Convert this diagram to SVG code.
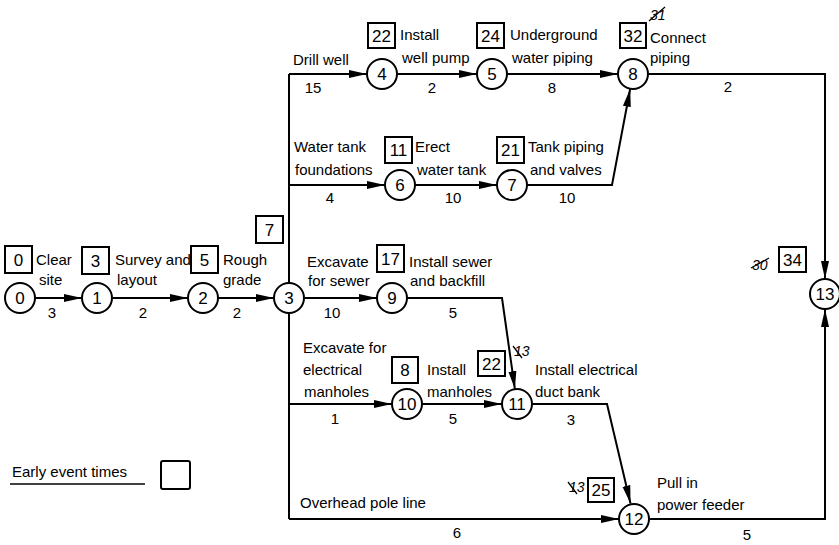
<svg xmlns="http://www.w3.org/2000/svg" width="839" height="545" viewBox="0 0 839 545">
<style>
text{font-family:"Liberation Sans",Arial,sans-serif;font-size:15px;fill:#000}
.n{font-size:17px;text-anchor:middle}
.b{font-size:17px;text-anchor:middle}
.d{text-anchor:middle;font-size:15px}
.x{font-style:italic;font-size:14px}
circle{fill:#fff;stroke:#000;stroke-width:2}
rect{fill:#fff;stroke:#000;stroke-width:2}
.c line,.c polyline{stroke:#000;stroke-width:2;fill:none}
.s{stroke:#000;stroke-width:1.3}
</style>
<defs>
<marker id="a" viewBox="0 0 18 10" refX="18" refY="5" markerWidth="18" markerHeight="10" orient="auto" markerUnits="userSpaceOnUse"><path d="M0,1 L18,5 L0,9 z" fill="#000"/></marker>
</defs>
<g class="c" id="connectors">
<line x1="35" y1="298" x2="82" y2="298" marker-end="url(#a)"/>
<line x1="112" y1="298" x2="188" y2="298" marker-end="url(#a)"/>
<line x1="218" y1="298" x2="274" y2="298" marker-end="url(#a)"/>
<line x1="289" y1="74" x2="289" y2="283"/>
<line x1="289" y1="313" x2="289" y2="519"/>
<line x1="289" y1="74" x2="367" y2="74" marker-end="url(#a)"/>
<line x1="397" y1="74" x2="477" y2="74" marker-end="url(#a)"/>
<line x1="507" y1="74" x2="618" y2="74" marker-end="url(#a)"/>
<polyline points="648,74 825,74 825,279" marker-end="url(#a)"/>
<line x1="289" y1="185" x2="385" y2="185" marker-end="url(#a)"/>
<line x1="415" y1="185" x2="497" y2="185" marker-end="url(#a)"/>
<polyline points="527,185 612,185 630.2,88.7" marker-end="url(#a)"/>
<line x1="304" y1="298" x2="377" y2="298" marker-end="url(#a)"/>
<polyline points="407,298 502,298 514.9,389.1" marker-end="url(#a)"/>
<line x1="289" y1="404" x2="392" y2="404" marker-end="url(#a)"/>
<line x1="422" y1="404" x2="502" y2="404" marker-end="url(#a)"/>
<polyline points="532,404 607,404 630.5,503.4" marker-end="url(#a)"/>
<line x1="289" y1="519" x2="619" y2="519" marker-end="url(#a)"/>
<polyline points="649,519 825,519 825,309" marker-end="url(#a)"/>
</g>
<g id="n0"><circle cx="20" cy="298" r="15"/><text class="n" x="20" y="304">0</text></g>
<g id="n1"><circle cx="97" cy="298" r="15"/><text class="n" x="97" y="304">1</text></g>
<g id="n2"><circle cx="203" cy="298" r="15"/><text class="n" x="203" y="304">2</text></g>
<g id="n3"><circle cx="289" cy="298" r="15"/><text class="n" x="289" y="304">3</text></g>
<g id="n4"><circle cx="382" cy="74" r="15"/><text class="n" x="382" y="80">4</text></g>
<g id="n5"><circle cx="492" cy="74" r="15"/><text class="n" x="492" y="80">5</text></g>
<g id="n6"><circle cx="400" cy="185" r="15"/><text class="n" x="400" y="191">6</text></g>
<g id="n7"><circle cx="512" cy="185" r="15"/><text class="n" x="512" y="191">7</text></g>
<g id="n8"><circle cx="633" cy="74" r="15"/><text class="n" x="633" y="80">8</text></g>
<g id="n9"><circle cx="392" cy="298" r="15"/><text class="n" x="392" y="304">9</text></g>
<g id="n10"><circle cx="407" cy="404" r="15"/><text class="n" x="407" y="410">10</text></g>
<g id="n11"><circle cx="517" cy="404" r="15"/><text class="n" x="517" y="410">11</text></g>
<g id="n12"><circle cx="634" cy="519" r="15"/><text class="n" x="634" y="525">12</text></g>
<g id="n13"><circle cx="825" cy="294" r="15"/><text class="n" x="825" y="300">13</text></g>
<g id="times">
<rect x="5" y="246" width="27" height="27"/><text class="b" x="18.5" y="266">0</text>
<rect x="82" y="247" width="27" height="27"/><text class="b" x="95.5" y="267">3</text>
<rect x="191" y="246" width="27" height="27"/><text class="b" x="204.5" y="266">5</text>
<rect x="256" y="216" width="27" height="27"/><text class="b" x="269.5" y="236">7</text>
<rect x="368" y="23" width="27" height="25"/><text class="b" x="381.5" y="42">22</text>
<rect x="477" y="23" width="27" height="25"/><text class="b" x="490.5" y="42">24</text>
<rect x="620" y="23" width="26" height="25"/><text class="b" x="633" y="42">32</text>
<rect x="385" y="137" width="27" height="26"/><text class="b" x="398.5" y="156">11</text>
<rect x="497" y="137" width="27" height="26"/><text class="b" x="510.5" y="156">21</text>
<rect x="377" y="245" width="27" height="27"/><text class="b" x="390.5" y="265">17</text>
<rect x="392" y="357" width="26" height="26"/><text class="b" x="405" y="376">8</text>
<rect x="478" y="351" width="27" height="25"/><text class="b" x="491.5" y="370">22</text>
<rect x="588" y="478" width="26" height="24"/><text class="b" x="601" y="496">25</text>
<rect x="779" y="247" width="27" height="25"/><text class="b" x="792.5" y="266">34</text>
<rect x="161" y="461" width="29" height="28" rx="2"/>
</g>
<g id="crossed">
<text class="x" x="650" y="20">31</text><line class="s" x1="649" y1="21" x2="665" y2="7"/>
<text class="x" x="752" y="270">30</text><line class="s" x1="751" y1="268" x2="769" y2="258"/>
<text class="x" x="514" y="356">13</text><line class="s" x1="513" y1="346" x2="522" y2="358"/>
<text class="x" x="569" y="492">13</text><line class="s" x1="568" y1="482" x2="577" y2="494"/>
</g>
<g id="labels">
<text x="36" y="265">Clear</text><text x="39" y="285">site</text>
<text x="115" y="265">Survey and</text><text x="117" y="285">layout</text>
<text x="223" y="265">Rough</text><text x="223" y="285">grade</text>
<text class="d" x="52" y="318">3</text>
<text class="d" x="143" y="318">2</text>
<text class="d" x="237" y="318">2</text>
<text x="293" y="65">Drill well</text>
<text class="d" x="313" y="93">15</text>
<text x="400" y="40">Install</text><text x="402" y="63">well pump</text>
<text class="d" x="432" y="93">2</text>
<text x="510" y="40">Underground</text><text x="512" y="63">water piping</text>
<text class="d" x="552" y="93">8</text>
<text x="650" y="43">Connect</text><text x="650" y="63">piping</text>
<text class="d" x="728" y="92">2</text>
<text x="294" y="152">Water tank</text><text x="295" y="175">foundations</text>
<text class="d" x="330" y="203">4</text>
<text x="415" y="152">Erect</text><text x="417" y="175">water tank</text>
<text class="d" x="453" y="203">10</text>
<text x="528" y="152">Tank piping</text><text x="530" y="175">and valves</text>
<text class="d" x="567" y="203">10</text>
<text x="307" y="267">Excavate</text><text x="308" y="286">for sewer</text>
<text x="409" y="267">Install sewer</text><text x="410" y="286">and backfill</text>
<text class="d" x="332" y="318">10</text>
<text class="d" x="453" y="318">5</text>
<text x="303" y="353">Excavate for</text><text x="303" y="375">electrical</text><text x="304" y="397">manholes</text>
<text x="427" y="375">Install</text><text x="427" y="397">manholes</text>
<text x="535" y="375">Install electrical</text><text x="535" y="397">duct bank</text>
<text class="d" x="335" y="424">1</text>
<text class="d" x="453" y="424">5</text>
<text class="d" x="571" y="425">3</text>
<text x="300" y="508">Overhead pole line</text>
<text class="d" x="457" y="538">6</text>
<text x="657" y="488">Pull in</text><text x="657" y="510">power feeder</text>
<text class="d" x="747" y="540">5</text>
<text x="12" y="477">Early event times</text>
<line x1="10" y1="484" x2="145" y2="484" stroke="#000" stroke-width="1.5"/>
</g>
</svg>
